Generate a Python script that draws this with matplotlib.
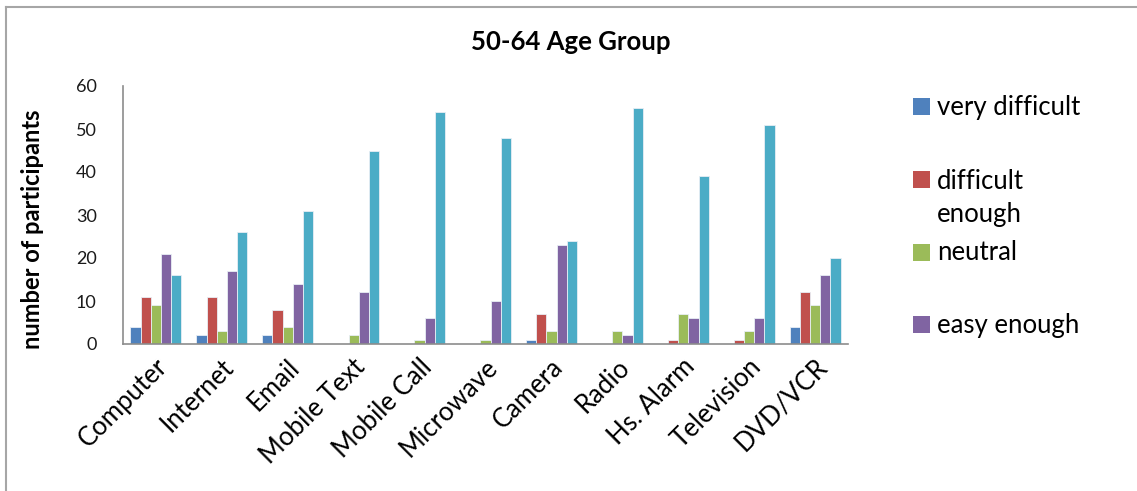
import matplotlib.pyplot as plt
import numpy as np
from matplotlib.lines import Line2D
from matplotlib.patches import Rectangle
from matplotlib.transforms import ScaledTranslation

plt.rcParams['font.family'] = ['Lato', 'DejaVu Sans']

# ------------------------
# Dados
devices = ['Computer', 'Internet', 'Email', 'Mobile Text', 'Mobile Call',
           'Microwave', 'Camera', 'Radio', 'Hs. Alarm', 'Television', 'DVD/VCR']
very_difficult = [4, 2, 2, 0, 0, 0, 1, 0, 0, 0, 4]
difficult_enough = [11, 11, 8, 0, 0, 0, 7, 0, 1, 1, 12]
neutral = [9, 3, 4, 2, 1, 1, 3, 3, 7, 3, 9]
easy_enough = [21, 17, 14, 12, 6, 10, 23, 2, 6, 6, 16]
very_easy = [16, 26, 31, 45, 54, 48, 24, 55, 39, 51, 20]

series = [very_difficult, difficult_enough, neutral, easy_enough, very_easy]
labels = ['very difficult', 'difficult\nenough', 'neutral', 'easy enough']
colors = ['#4F81BD', '#C0504D', '#9BBB59', '#8064A2', '#4BACC6']

W, H = 1137, 491
fig = plt.figure(figsize=(W / 100, H / 100), dpi=100)
ax = fig.add_axes([123 / W, 1 - 344 / H, (848 - 123) / W, (344 - 86) / H])

# ------------------------
# Barras agrupadas
x = np.arange(len(devices))
bw = 0.155
for i, (vals, col) in enumerate(zip(series, colors)):
    ax.bar(x + (i - 2) * bw, vals, bw, color=col, edgecolor='#e8eef5', linewidth=0.6)

ax.set_xlim(-0.5, len(devices) - 0.5)
ax.set_ylim(0, 60)
ax.set_yticks(range(0, 61, 10))
ax.set_xticks(x)
ax.set_xticklabels(devices, rotation=45, ha='right', va='center',
                   rotation_mode='anchor', fontsize=18.5)
ax.tick_params(axis='x', length=0, pad=10)
ax.tick_params(axis='y', length=0, pad=19, labelsize=13)
# desloca os rotulos inclinados um pouco para a direita e para baixo
shift = ScaledTranslation(8 / 100, -5 / 100, fig.dpi_scale_trans)
for lab in ax.get_xticklabels():
    lab.set_transform(lab.get_transform() + shift)
for lab in ax.get_yticklabels():
    lab.set_color('#1a1a1a')
for s in ['top', 'right']:
    ax.spines[s].set_visible(False)
for s in ['left', 'bottom']:
    ax.spines[s].set_color('#8c8c8c')
    ax.spines[s].set_linewidth(1.2)

# ------------------------
# Titulos
fig.text(571 / W, 1 - 42 / H, '50-64 Age Group', ha='center', va='center',
         fontsize=18.5, fontweight='bold')
fig.text(33 / W, 1 - 229 / H, 'number of participants', rotation=90,
         ha='center', va='center', fontsize=17, fontweight='bold')

# ------------------------
# Legenda
leg_y = [107, 180, 253, 325]
for lab, col, yy in zip(labels, colors, leg_y):
    fig.add_artist(Rectangle((913 / W, 1 - (yy + 8) / H), 17 / W, 17 / H,
                             facecolor=col, edgecolor='none',
                             transform=fig.transFigure))
    if '\n' in lab:
        fig.text(937 / W, 1 - (yy - 11) / H, lab, ha='left', va='top',
                 fontsize=18.5, linespacing=1.38)
    else:
        fig.text(937 / W, 1 - yy / H, lab, ha='left', va='center', fontsize=18.5)

# moldura
fig.add_artist(Line2D([6 / W, 6 / W], [0, 1 - 7 / H], color='#a6a6a6', lw=1.5,
                      transform=fig.transFigure))
fig.add_artist(Line2D([6 / W, 1], [1 - 7 / H, 1 - 7 / H], color='#a6a6a6', lw=1.5,
                      transform=fig.transFigure))

fig.savefig('out.png', dpi=100)
